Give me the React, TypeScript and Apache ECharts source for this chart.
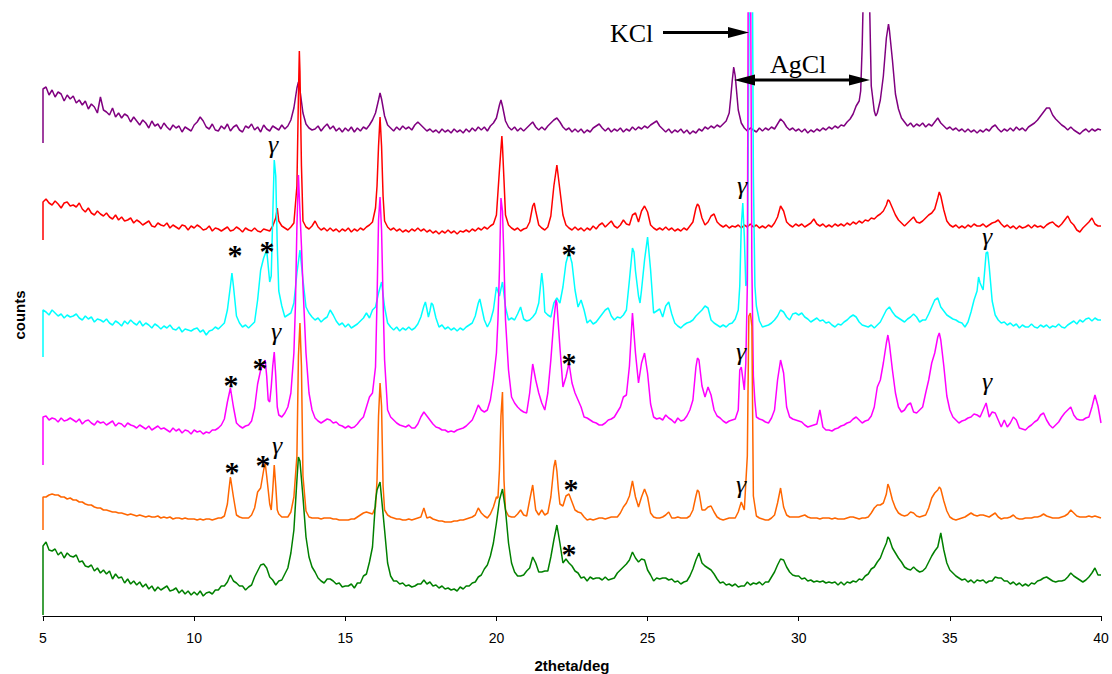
import React, { useEffect, useRef } from "react";
import * as echarts from "echarts";

// Diffraction patterns, 2theta from 5 to 40 deg, sampled every 0.1 deg.
// Values are stacked intensities (traces offset vertically, arbitrary counts).
const X_START = 5;
const X_STEP = 0.1;

const purpleLead = 473;
const purpleBase = [
  527,529,521,526,519,524,522,515,521,517,
  520,513,516,511,515,507,512,509,503,519,
  506,504,501,508,499,503,498,502,500,494,
  499,495,491,496,493,488,495,490,492,487,
  493,489,486,491,488,490,484,489,487,485,
  491,494,499,495,489,487,492,486,485,490,
  487,492,485,489,491,486,484,490,488,492,
  486,489,484,491,487,485,490,488,486,491,
  487,490,496,508,528,526,503,492,488,486,
  487,490,485,489,492,487,490,485,488,484,
  488,485,489,484,488,485,489,487,491,496,
  503,516,517,500,491,488,485,489,486,490,
  487,489,486,491,494,491,488,485,487,484,
  486,483,487,484,486,483,487,484,486,483,
  487,484,488,485,489,486,489,485,490,493,
  498,511,510,495,489,486,489,485,488,485,
  488,491,494,489,486,489,486,490,493,496,
  498,494,489,486,488,484,487,484,487,483,
  486,484,488,490,492,488,485,488,484,487,
  485,488,484,487,485,489,486,489,487,490,
  488,491,493,495,490,487,484,487,483,486,
  484,487,483,486,482,485,483,487,485,489,
  487,490,488,491,489,492,495,503,535,540,
  506,493,488,485,488,486,484,488,485,488,
  486,489,487,492,497,494,489,486,488,485,
  487,484,487,483,486,484,487,485,488,486,
  489,487,490,488,491,490,494,497,502,510,
  515,570,680,680,530,505,503,516,540,578,
  586,556,522,507,498,494,490,493,489,492,
  490,493,489,492,490,494,498,493,490,487,
  489,486,488,485,487,484,487,484,486,483,
  486,484,487,485,489,491,487,484,487,485,
  488,485,489,486,488,485,489,491,493,496,
  500,504,508,508,501,497,494,491,489,486,
  489,486,484,482,485,487,484,487,485,487,
  486,
];
const purpleExtra = [13.45,534, 16.15,523, 20.15,516, 27.75,518, 27.85,549, 32.05,525, 32.15,640, 32.25,700, 32.38,560, 32.55,500, 32.97,592];

const redLead = 376;
const redBase = [
  414,417,413,411,415,412,408,413,414,410,
  411,409,413,407,404,408,403,401,405,402,
  400,403,399,397,401,396,399,395,396,398,
  393,396,394,391,393,395,390,389,393,391,
  390,393,388,391,389,387,391,390,386,390,
  388,391,389,386,387,390,385,388,387,385,
  387,389,385,386,389,387,384,388,386,385,
  388,385,384,387,386,385,390,398,395,390,
  388,386,389,393,430,545,395,389,387,390,
  395,389,386,388,385,388,385,387,384,387,
  385,388,384,387,385,388,386,389,391,394,
  408,470,470,395,389,386,388,385,387,384,
  386,384,387,385,388,385,387,384,386,383,
  385,382,385,383,386,383,385,382,385,384,
  386,384,387,385,388,386,389,387,390,392,
  401,446,470,401,391,388,386,388,385,387,
  388,394,410,405,391,388,386,389,400,430,
  451,426,401,391,388,386,389,386,388,385,
  388,386,390,387,391,393,389,392,395,390,
  388,391,396,392,391,401,403,394,405,410,
  404,391,388,386,388,386,389,386,388,385,
  387,385,388,386,390,394,408,410,398,391,
  394,400,402,394,391,389,391,388,390,389,
  391,388,391,389,392,389,391,388,390,388,
  391,389,393,399,410,405,394,391,389,392,
  390,392,389,391,393,397,392,390,392,389,
  391,389,392,390,392,390,393,391,394,392,
  395,393,396,395,398,397,400,402,405,411,
  415,408,401,396,393,390,393,396,399,394,
  393,395,398,401,403,407,418,420,406,395,
  391,389,391,388,390,388,391,389,392,390,
  390,392,389,391,393,394,396,392,389,391,
  388,390,387,390,388,389,391,388,391,389,
  390,388,391,393,394,391,389,392,396,400,
  394,391,386,384,388,391,394,398,392,390,
  390,
];
const redExtra = [12.75,408, 13.45,520, 13.48,565, 13.55,450, 16.05,430, 16.15,499, 16.25,420, 20.18,480, 20.25,436, 21.25,413, 26.65,412, 32.95,416, 34.65,424];

const cyanLead = 259;
const cyanBase = [
  306,304,301,306,303,300,302,298,301,299,
  300,302,298,296,300,297,299,294,297,296,
  294,297,293,291,295,293,290,295,292,296,
  293,291,295,290,293,291,288,292,290,287,
  290,288,291,287,286,289,284,287,286,285,
  287,288,284,286,281,285,286,289,287,290,
  293,306,330,330,300,293,289,291,288,291,
  294,316,346,358,366,334,400,440,325,310,
  299,301,303,313,343,366,336,309,303,299,
  296,298,294,297,299,306,301,295,291,293,
  289,292,288,290,292,295,298,303,298,306,
  309,323,334,309,293,289,286,289,285,288,
  286,289,286,288,292,299,310,307,305,311,
  298,289,291,287,289,286,288,285,288,286,
  289,291,293,300,313,310,296,289,295,306,
  329,320,334,309,296,298,296,302,309,297,
  295,296,299,303,313,343,304,301,299,313,
  318,313,329,353,364,353,326,309,316,306,
  293,296,292,294,298,302,306,308,300,296,
  299,298,301,306,336,368,345,320,326,356,
  379,346,303,305,307,299,310,314,302,293,
  290,288,291,293,294,296,300,303,306,310,
  308,296,293,291,289,291,289,292,293,297,
  306,390,380,335,700,440,310,295,289,290,
  291,293,296,300,306,304,299,296,302,303,
  301,303,299,297,294,296,298,295,296,293,
  294,291,289,292,291,294,296,299,301,299,
  294,291,290,289,291,288,291,294,300,306,
  309,304,300,298,296,294,297,299,302,299,
  294,296,296,302,309,316,318,309,305,301,
  299,297,296,294,293,289,294,304,316,325,
  333,326,363,350,315,301,296,293,294,291,
  293,290,292,288,291,289,289,292,289,288,
  291,289,291,288,290,289,292,289,288,291,
  293,295,292,296,294,297,298,295,298,296,
  296,
];
const cyanExtra = [11.25,343, 12.55,340, 12.65,456, 12.75,370, 17.65,314, 17.75,299, 17.85,313, 19.45,317, 21.55,329, 24.55,364, 24.75,313, 28.05,330, 28.15,413, 28.25,330, 28.36,600, 28.46,700, 28.55,330, 35.95,339, 36.25,364];

const magentaLead = 151;
const magentaBase = [
  199,200,196,198,197,194,198,195,196,198,
  196,194,197,192,195,196,193,191,195,193,
  194,191,193,195,190,193,192,189,193,191,
  190,188,191,189,187,190,186,188,190,187,
  188,186,184,188,185,187,183,186,185,182,
  186,184,185,182,184,183,186,186,188,191,
  197,214,228,209,193,190,188,190,191,195,
  208,232,246,253,240,214,250,240,201,199,
  203,209,223,263,390,405,330,263,223,206,
  198,195,193,195,197,196,193,194,191,190,
  188,190,188,189,192,196,199,209,219,223,
  249,396,386,256,206,199,196,193,191,190,
  189,191,188,188,192,199,204,200,196,192,
  189,188,186,186,184,185,184,186,187,188,
  190,193,196,203,211,206,204,206,216,236,
  263,346,405,296,246,219,213,209,206,204,
  203,223,252,236,223,213,206,223,256,296,
  313,269,229,239,253,233,223,216,209,199,
  198,196,194,193,191,191,193,196,197,199,
  204,209,219,221,250,303,263,233,253,263,
  243,212,199,197,198,196,201,198,196,193,
  198,195,196,200,206,216,249,256,230,219,
  229,221,206,200,198,195,193,195,196,197,
  206,249,226,330,700,240,199,197,196,194,
  193,198,206,236,256,243,209,199,197,196,
  195,194,191,189,190,191,192,206,189,186,
  186,185,187,188,190,191,193,194,197,199,
  196,193,195,196,200,209,229,236,253,273,
  272,246,223,209,204,206,211,213,204,203,
  206,209,223,236,253,263,279,276,250,220,
  206,199,196,193,195,196,198,199,202,201,
  199,206,213,199,204,203,196,189,196,189,
  193,199,196,188,187,186,189,191,194,196,
  201,203,196,191,188,191,194,199,203,206,
  209,201,197,196,196,198,199,209,221,210,
  193,
];
const magentaExtra = [12.35,256, 12.45,216, 12.55,229, 12.65,264, 12.75,209, 13.35,310, 13.45,441, 13.55,370, 16.05,316, 16.15,419, 16.25,316, 20.05,296, 20.15,418, 20.25,355, 21.97,316, 26.65,258, 28.05,246, 28.25,253, 28.33,650, 28.37,720, 28.45,350, 28.55,215, 32.95,281, 34.65,283];

const orangeLead = 86;
const orangeBase = [
  119,119,121,122,121,121,119,119,117,118,
  116,116,114,114,112,111,111,109,108,108,
  106,106,105,104,104,103,103,102,101,102,
  101,100,101,100,99,100,99,99,100,98,
  99,98,99,97,98,98,97,98,97,97,
  97,96,97,96,97,97,96,97,98,98,
  100,112,139,119,101,99,98,98,98,101,
  108,124,128,146,140,112,126,130,102,99,
  99,99,104,119,160,293,140,105,99,98,
  98,98,97,98,98,98,97,97,96,96,
  96,96,97,97,99,101,103,104,103,102,
  109,200,210,106,101,99,98,97,97,96,
  96,97,96,97,98,99,108,98,99,97,
  96,95,95,94,94,94,95,95,96,96,
  97,98,99,101,108,103,100,98,102,109,
  119,146,224,106,100,99,99,102,106,101,
  100,116,131,106,101,106,101,103,119,149,
  145,112,110,120,122,114,106,104,103,99,
  96,97,96,97,98,98,97,98,99,99,
  99,103,109,113,120,135,119,109,119,127,
  119,103,99,98,98,99,101,104,98,98,
  99,98,98,98,100,106,120,124,106,106,
  109,110,104,99,97,96,97,98,98,98,
  104,114,106,160,303,120,100,98,97,96,
  96,98,101,113,128,109,101,99,99,99,
  99,100,101,99,98,98,98,97,98,98,
  98,97,98,97,97,97,98,99,99,98,
  97,98,98,99,103,108,111,111,113,122,
  128,116,108,103,101,100,101,104,103,100,
  99,100,101,108,118,123,126,127,115,105,
  99,97,96,97,98,99,101,103,101,100,
  101,101,100,99,101,103,99,97,98,98,
  99,101,98,97,97,98,98,98,99,99,
  100,102,100,99,98,98,98,99,100,102,
  106,103,100,99,99,99,100,99,100,99,
  98,
];
const orangeExtra = [11.15,126, 12.35,153, 12.45,126, 12.55,106, 12.65,151, 12.75,106, 13.45,260, 13.55,250, 16.05,136, 16.15,233, 16.25,130, 20.05,118, 20.15,200, 20.25,136, 21.95,156, 22.05,126, 26.65,126, 28.35,300, 28.45,290, 32.95,132, 34.65,129];

const greenLead = 1;
const greenBase = [
  70,74,66,65,67,61,64,58,63,60,
  59,61,54,55,50,49,51,45,48,43,
  46,42,45,37,42,38,39,33,37,32,
  35,31,34,29,32,27,30,25,29,26,
  28,30,25,26,28,23,26,22,25,21,
  24,21,25,20,23,24,22,26,26,30,
  30,34,41,35,33,30,30,26,29,31,
  39,45,51,52,48,39,36,31,35,36,
  42,48,63,86,136,155,119,79,59,49,
  44,38,35,33,37,37,35,32,33,29,
  30,30,32,28,33,33,40,42,54,69,
  115,130,118,86,53,40,35,35,32,33,
  30,31,29,30,32,32,36,32,34,30,
  31,28,30,27,28,26,27,25,29,27,
  30,30,33,34,39,41,47,51,60,73,
  93,116,127,106,73,53,44,40,40,41,
  45,48,59,53,44,44,45,45,59,76,
  91,73,53,57,53,50,45,43,38,39,
  35,39,37,38,38,36,39,36,37,38,
  43,46,49,52,56,64,58,54,57,56,
  46,41,35,38,37,38,38,36,37,34,
  35,32,34,35,40,47,56,63,53,50,
  48,46,42,37,33,34,31,32,30,32,
  29,30,30,34,31,33,32,34,31,34,
  34,39,44,51,57,56,49,44,41,40,
  40,37,38,35,36,34,35,34,35,33,
  34,33,34,31,34,31,34,33,35,34,
  37,36,40,42,47,49,54,58,66,73,
  77,68,63,58,54,49,47,46,49,46,
  44,45,48,54,60,65,69,83,66,53,
  46,43,40,38,36,37,34,36,33,36,
  35,36,33,35,35,39,38,38,35,35,
  32,34,31,33,30,32,30,33,32,35,
  36,38,39,37,35,34,35,35,36,39,
  43,40,38,36,34,36,39,43,48,41,
  41,
];
const greenExtra = [13.45,159, 16.05,126, 16.15,134, 32.95,79];

const xTicks = [5, 10, 15, 20, 25, 30, 35, 40];

// Merge the regular 0.1-deg samples with the finer samples taken on sharp peaks,
// and start each trace with its vertical rise at the first angle.
function buildTrace(lead: number, base: number[], extra: number[]): number[][] {
  const pts: number[][] = base.map((v, i) => [Math.round((X_START + i * X_STEP) * 100) / 100, v]);
  for (let k = 0; k < extra.length; k += 2) pts.push([extra[k], extra[k + 1]]);
  pts.sort((a, b) => a[0] - b[0]);
  return [[X_START, lead], ...pts];
}

const SANS = '"Liberation Sans", Arial, Helvetica, sans-serif';
const SERIF = '"Liberation Serif", "Times New Roman", Times, serif';

const traces = [
  { name: "purple", color: "#800080", data: buildTrace(purpleLead, purpleBase, purpleExtra) },
  { name: "red", color: "#ff0000", data: buildTrace(redLead, redBase, redExtra) },
  { name: "cyan", color: "#00ffff", data: buildTrace(cyanLead, cyanBase, cyanExtra) },
  { name: "magenta", color: "#ff00ff", data: buildTrace(magentaLead, magentaBase, magentaExtra) },
  { name: "orange", color: "#ff6600", data: buildTrace(orangeLead, orangeBase, orangeExtra) },
  { name: "green", color: "#008000", data: buildTrace(greenLead, greenBase, greenExtra) },
];

function buildGraphics() {
  const els: any[] = [];
  const gammas = [[273, 150], [742, 191], [987, 242], [276, 337], [741, 357], [987, 387], [277, 451], [741, 490]];
  const stars = [[235, 249], [267, 245], [569, 248], [231, 379], [260, 362], [569, 357], [232, 466], [263, 459], [571, 483], [569, 548]];
  gammas.forEach(([x, y]) =>
    els.push({
      type: "text", x, y: y - 6, z: 100,
      style: { text: "γ", fontSize: 26, fontStyle: "italic", fontFamily: SERIF, fill: "#000", align: "center", verticalAlign: "middle" },
    })
  );
  stars.forEach(([x, y]) =>
    els.push({
      type: "text", x, y: y + 5, z: 100,
      style: { text: "*", fontSize: 30, fontWeight: "bold", fontFamily: SERIF, fill: "#000", align: "center", verticalAlign: "middle" },
    })
  );
  // KCl label and arrow
  els.push({
    type: "text", x: 610, y: 33.5, z: 100,
    style: { text: "KCl", fontSize: 26, fontFamily: SERIF, fill: "#000", align: "left", verticalAlign: "middle" },
  });
  els.push({ type: "line", z: 100, shape: { x1: 663, y1: 32.5, x2: 732, y2: 32.5 }, style: { stroke: "#000", lineWidth: 3 } });
  els.push({ type: "polygon", z: 100, shape: { points: [[728, 27], [749, 32.5], [728, 38]] }, style: { fill: "#000" } });
  // AgCl label and double arrow
  els.push({
    type: "text", x: 770, y: 64, z: 100,
    style: { text: "AgCl", fontSize: 26, fontFamily: SERIF, fill: "#000", align: "left", verticalAlign: "middle" },
  });
  els.push({ type: "line", z: 100, shape: { x1: 752, y1: 80, x2: 852, y2: 80 }, style: { stroke: "#000", lineWidth: 3 } });
  els.push({ type: "polygon", z: 100, shape: { points: [[755, 74.5], [734, 80], [755, 85.5]] }, style: { fill: "#000" } });
  els.push({ type: "polygon", z: 100, shape: { points: [[849, 74.5], [870, 80], [849, 85.5]] }, style: { fill: "#000" } });
  // axis titles
  els.push({
    type: "text", x: 19, y: 315, rotation: Math.PI / 2, z: 100,
    style: { text: "counts", fontSize: 15, fontWeight: "bold", fontFamily: SANS, fill: "#000", align: "center", verticalAlign: "middle" },
  });
  els.push({
    type: "text", x: 572, y: 665, z: 100,
    style: { text: "2theta/deg", fontSize: 15, fontWeight: "bold", fontFamily: SANS, fill: "#000", align: "center", verticalAlign: "middle" },
  });
  return els;
}

export default function App() {
  const ref = useRef<HTMLDivElement>(null);
  useEffect(() => {
    if (!ref.current) return;
    const chart = echarts.init(ref.current, null, { renderer: "svg" });
    chart.setOption({
      animation: false,
      backgroundColor: "#ffffff",
      grid: { left: 43, right: 11, top: 13, bottom: 58, containLabel: false },
      xAxis: {
        type: "value",
        min: xTicks[0],
        max: xTicks[xTicks.length - 1],
        interval: 5,
        axisLine: { show: true, onZero: false, lineStyle: { color: "#000", width: 1 } },
        axisTick: { show: true, inside: false, length: 5, lineStyle: { color: "#000" } },
        axisLabel: { color: "#000", fontSize: 14, fontFamily: SANS, margin: 15 },
        splitLine: { show: false },
      },
      yAxis: { type: "value", min: 0, max: 603, show: false },
      series: traces.map((t) => ({
        name: t.name,
        type: "line",
        data: t.data,
        showSymbol: false,
        symbol: "none",
        clip: true,
        silent: true,
        lineStyle: { color: t.color, width: 1.5 },
        itemStyle: { color: t.color },
      })),
      graphic: buildGraphics(),
    });
    return () => chart.dispose();
  }, []);
  return (
    <div
      ref={ref}
      style={{ position: "fixed", left: 0, top: 0, width: 1112, height: 674, background: "#fff" }}
    />
  );
}
